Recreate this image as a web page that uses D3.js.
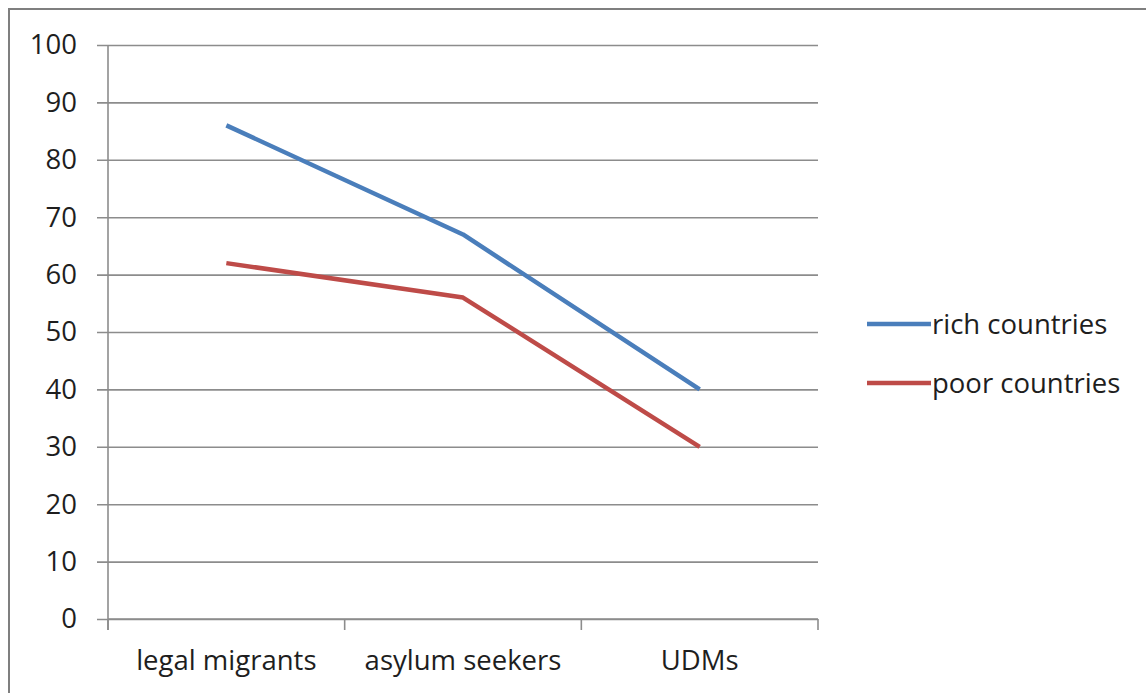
<!DOCTYPE html>
<html>
<head>
<meta charset="utf-8">
<script src="https://cdn.jsdelivr.net/npm/d3@7"></script>
<style>
  html, body { margin: 0; padding: 0; background: #fff; }
  svg { display: block; }
  text { font-family: "Open Sans", "Noto Sans", sans-serif; fill: #1e1e1e; }
</style>
</head>
<body>
<svg id="chart" width="1146" height="693"></svg>
<script>
// Share of respondents per migrant group, by country type
const categories = ["legal migrants", "asylum seekers", "UDMs"];
const seriesNames = ["rich countries", "poor countries"];
const richValues = [86, 67, 40];
const poorValues = [62, 56, 30];
const yTicks = [0, 10, 20, 30, 40, 50, 60, 70, 80, 90, 100];
const seriesColors = ["#4a7ebb", "#be4b48"];

const svg = d3.select("#chart");
const W = 1146, H = 693;
const margin = { left: 108, right: 328, top: 45, bottom: 74 };
const plotW = W - margin.left - margin.right;
const plotH = H - margin.top - margin.bottom;
const fontSize = 27.5;

// chart frame
svg.append("rect")
  .attr("x", 9).attr("y", 9)
  .attr("width", W).attr("height", H)
  .attr("fill", "#fff")
  .attr("stroke", "#7f7f7f").attr("stroke-width", 2);

const x = d3.scaleBand().domain(categories).range([0, plotW]).padding(0);
const y = d3.scaleLinear().domain([0, 100]).range([plotH, 0]);

const g = svg.append("g").attr("transform", `translate(${margin.left},${margin.top})`);

// horizontal gridlines with left tick stubs
const yAxis = d3.axisLeft(y).tickValues(yTicks).tickSize(-plotW).tickPadding(31);
const yg = g.append("g").call(yAxis);
yg.select(".domain").remove();
yg.selectAll(".tick line")
  .attr("x1", -11)
  .attr("stroke", "#8c8c8c").attr("stroke-width", 1.6);
yg.selectAll(".tick text")
  .attr("x", -31)
  .attr("font-size", fontSize).attr("fill", "#1e1e1e")
  .style("font-family", "'Open Sans', sans-serif");

// vertical axis line
g.append("line")
  .attr("x1", 0).attr("x2", 0).attr("y1", 0).attr("y2", plotH + 11)
  .attr("stroke", "#8c8c8c").attr("stroke-width", 1.6);

// category axis: ticks at band boundaries
const xAxis = d3.axisBottom(x).tickSize(0).tickPadding(31);
const xg = g.append("g").attr("transform", `translate(0,${plotH})`).call(xAxis);
xg.select(".domain").remove();
xg.selectAll(".tick text")
  .attr("font-size", fontSize).attr("fill", "#1e1e1e")
  .style("font-family", "'Open Sans', sans-serif");
const bounds = categories.map(c => x(c)).concat([plotW]);
g.append("g").selectAll("line").data(bounds).join("line")
  .attr("x1", d => d).attr("x2", d => d)
  .attr("y1", plotH).attr("y2", plotH + 11)
  .attr("stroke", "#8c8c8c").attr("stroke-width", 1.6);
g.append("line")
  .attr("x1", 0).attr("x2", plotW).attr("y1", plotH).attr("y2", plotH)
  .attr("stroke", "#8c8c8c").attr("stroke-width", 1.6);

// series lines
const series = [richValues, poorValues];
const line = d3.line()
  .x((d, i) => x(categories[i]) + x.bandwidth() / 2)
  .y(d => y(d));
g.append("g").selectAll("path").data(series).join("path")
  .attr("d", line)
  .attr("fill", "none")
  .attr("stroke", (d, i) => seriesColors[i])
  .attr("stroke-width", 4.5)
  .attr("stroke-linejoin", "round");

// legend
const legend = svg.append("g").attr("transform", "translate(867,324)");
const item = legend.selectAll("g").data(seriesNames).join("g")
  .attr("transform", (d, i) => `translate(0,${i * 59})`);
item.append("line")
  .attr("x1", 0).attr("x2", 64).attr("y1", 0).attr("y2", 0)
  .attr("stroke", (d, i) => seriesColors[i]).attr("stroke-width", 4.5);
item.append("text")
  .attr("x", 65).attr("y", 0).attr("dy", "0.35em")
  .attr("font-size", fontSize)
  .text(d => d);
</script>
</body>
</html>
